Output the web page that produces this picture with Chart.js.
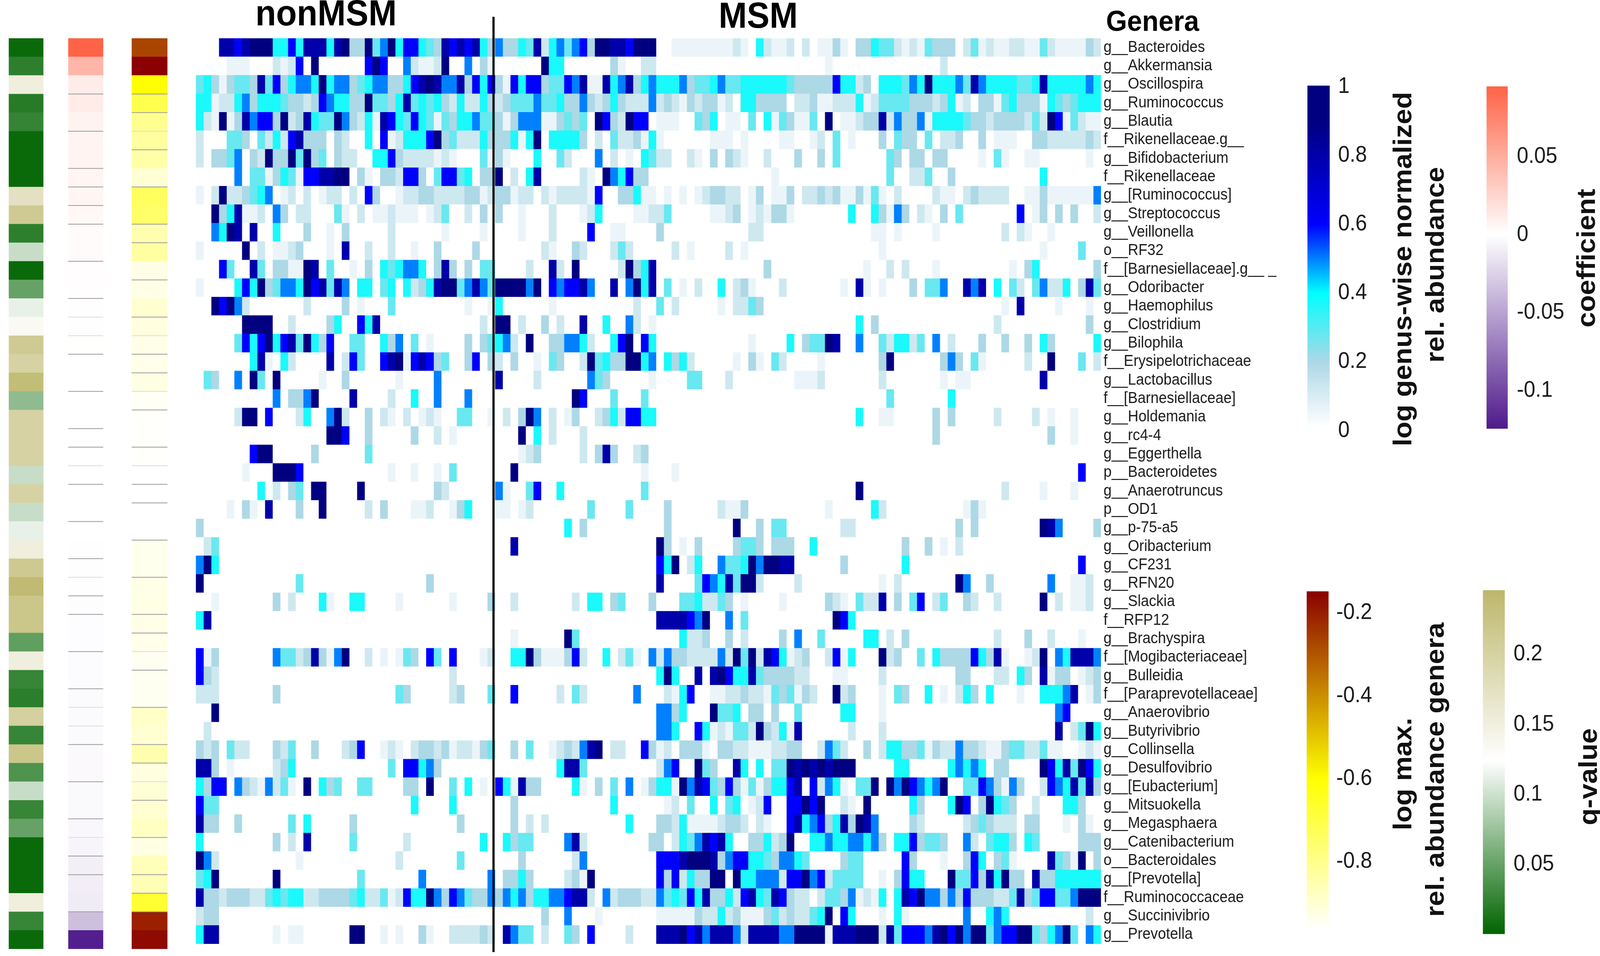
<!DOCTYPE html>
<html>
<head>
<meta charset="utf-8">
<script src="https://cdn.jsdelivr.net/npm/chart.js@4"></script>
<style>
  html, body { margin: 0; background: #fff; }
  html { overflow: hidden; }
  /* the window stops at 4096px wide, so the 4386px layout is fitted into it */
  body { position: relative; width: 4386px; height: 2448px; overflow: hidden; font-family: "Liberation Sans", Arial, sans-serif; transform: scaleX(0.93388); transform-origin: 0 0; }
  canvas { position: absolute; }
  .head { position: absolute; font-weight: bold; color: #000; line-height: 1; white-space: nowrap; }
  .side { position: absolute; font-weight: bold; font-size: 71px; color: #111; line-height: 1; white-space: nowrap; transform: translate(-50%, -50%) rotate(-90deg); }
</style>
</head>
<body>
<div class="head" style="left:700px;top:-13px;font-size:93px">nonMSM</div>
<div class="head" style="left:1970px;top:-7px;font-size:93px">MSM</div>
<div class="head" style="left:3032px;top:17px;font-size:74px">Genera</div>
<div class="side" style="left:3844px;top:689px">log genus-wise normalized</div>
<div class="side" style="left:3933px;top:678px">rel. abundance</div>
<div class="side" style="left:4348px;top:661px">coefficient</div>
<div class="side" style="left:3844px;top:1982px">log max.</div>
<div class="side" style="left:3933px;top:1971px">rel. abundance genera</div>
<div class="side" style="left:4353px;top:1989px">q-value</div>
<canvas id="qCol"></canvas>
<canvas id="coefCol"></canvas>
<canvas id="maxCol"></canvas>
<canvas id="heat"></canvas>
<canvas id="barAbund"></canvas>
<canvas id="barCoef"></canvas>
<canvas id="barMax"></canvas>
<canvas id="barQ"></canvas>
<script>
const genera = ["g__Bacteroides","g__Akkermansia","g__Oscillospira","g__Ruminococcus","g__Blautia","f__Rikenellaceae.g__","g__Bifidobacterium","f__Rikenellaceae","g__[Ruminococcus]","g__Streptococcus","g__Veillonella","o__RF32","f__[Barnesiellaceae].g__ _","g__Odoribacter","g__Haemophilus","g__Clostridium","g__Bilophila","f__Erysipelotrichaceae","g__Lactobacillus","f__[Barnesiellaceae]","g__Holdemania","g__rc4-4","g__Eggerthella","p__Bacteroidetes","g__Anaerotruncus","p__OD1","g__p-75-a5","g__Oribacterium","g__CF231","g__RFN20","g__Slackia","f__RFP12","g__Brachyspira","f__[Mogibacteriaceae]","g__Bulleidia","f__[Paraprevotellaceae]","g__Anaerovibrio","g__Butyrivibrio","g__Collinsella","g__Desulfovibrio","g__[Eubacterium]","g__Mitsuokella","g__Megasphaera","g__Catenibacterium","o__Bacteroidales","g__[Prevotella]","f__Ruminococcaceae","g__Succinivibrio","g__Prevotella"];

// abundance per sample, one digit per cell, index into abundanceLevels
const abundanceLevels = [0, .05, .12, .2, .28, .37, .5, .6, .8, 1];

const nonMsmRows = [
"0008878999 5575888589 3394695775 438787853",
"0000111000 2127090000 0079700621 129006031",
"4531344384 7356659566 3456633578 986683757",
"5512256355 5433237655 3394435845 453252253",
"5219138677 3923854496 3251875475 414355644",
"2000443042 5278333032 0050712555 793422253",
"2033460329 3394934032 2005573222 212100041",
"0000060441 3541778899 0310332773 047745033",
"1029223456 0120201220 2073001223 322223312",
"0093581120 6302200041 0201121110 124002030",
"0065980800 5000300103 0000020000 001000010",
"1000009020 1123000108 0020020010 030000300",
"0007400840 3311980400 1030545665 038303044",
"1000057593 4665978486 0550450523 589946864",
"0097962000 0000200003 0100040000 000001001",
"0000009999 0020000350 0758000000 000000020",
"0000047579 5784953700 4400536040 100003034",
"0000000581 0520000802 7400789178 734003703",
"0430060940 9000001003 0000001000 060000000",
"0000000000 6033690000 8000020050 060006000",
"0000029907 0002500692 0030210201 210044001",
"0000000000 0000000997 0030000030 020100000",
"0000000799 0000030000 0040000000 000000000",
"0000001000 9997000000 0000010010 010400000",
"0000000050 2034099000 0900000000 032000000",
"0000103108 0003009000 0020300011 200135000",
"3",
"024",
"695",
"9000000000 0004000000 0000000000 3",
"0010000000 3020005100 5500001000 000100003",
"58",
"",
"7130000000 6442383169 0020101430 740700012",
"7320000000 0000000000 0000000000 0002",
"2220000000 3000000000 0000004300 000230004",
"009",
"02",
"3230422000 3240030002 3700121023 323122134",
"8830100000 2350000000 0000040775 63",
"5377063216 2410905340 0440000330 900405010",
"7440000000 0000000000 0000000050 0005",
"8330030000 0040500000 3000000000 00003",
"5000000000 3020800000 4000000200 000000050",
"9620000000 0001000000 0000002000 00004",
"4590000000 9000000000 0400000006 000000006",
"8332333224 5455223333 4522412755 963764336",
"233",
"5880000000 1011000000 9900101003 100222232"
];

const msmRows = [
"6335482564 6739988799 9001111111 1210521120 2011310335 4421214333 0241211221 142111132",
"0000009550 0000031002 2000000000 0000000000 0001000000 0000000020",
"3175773447 6811856835 6555634456 4455555543 3333755230 5554659555 6486555544 585555565",
"2344464453 3632353222 6232132331 2055333302 2311222512 4444333235 1203314533 315434555",
"3136661134 3409732977 0111004350 1104051431 1409011233 8263361555 5433233332 429714211",
"3351590555 5302042231 5100000011 1010000110 0120401000 3043304022 3003011100 332222232",
"3100050042 0006020105 4220021030 3210020003 0030400000 0430330330 0001041001 100000010",
"9020580000 0210965733 0000000000 0000001000 0000000000 0400224003 0000000000 05",
"3312202122 2217003351 1010101233 2201301130 2232311314 1020000211 0232222001 131111116",
"3001000200 0125000011 2240000011 2301213310 0000005005 3163021030 4000000070 130303002",
"0001000200 0070011000 0300000000 0002200000 0000000001 1010000100 0000002021 001",
"0000002100 3200024200 0002010000 2010000000 0000000000 1000000000 0000000000 0100004",
"0000200820 9000002935 8000000000 0000030000 0000000010 0202000100 0000000103 500000003",
"9999690767 7860080695 8040102005 0231000200 0000010810 1000304460 0868050420 462250384",
"5000000100 0000000020 0402000001 0224300000 0000000000 0000000000 0000001080 000100010",
"9902003020 0800500620 1000000000 0000000000 0000000503 0000000000 0000020000 00000003",
"5620900336 6520057907 5000000000 0001000050 3449800600 4255240602 0003003003 053000005",
"2030010430 0294533995 6053520000 0103104200 0010000000 3900000036 3041000002 009000402",
"8000020000 0064300000 1000044000 2000000001 1120000000 2000000010 1100000000 08",
"0000000000 9700040004 0000000000 0000000000 0000000000 0400000005",
"0203960201 3002352775 5000000000 0000000000 0000000500 1100000303 0000020000 201001",
"0009050200 0200000000 0000000000 0000000000 0000000000 0000000300 0000000000 003001",
"0001230000 0203830023",
"0090000000 0000000001 0001000000 0000000000 0000000000 0000000000 0000000000 0000007",
"6100470050 0000000004 0000000000 0000000000 0000000900 0000000000 0000002000 010001",
"1101200000 0040000400 0030000002 1130000000 0001000005 2000000000 0131",
"0000000005 0300000000 0030000000 0900304400 0000022000 0000000000 3030000000 098600003",
"0080000000 0000000000 0930103000 0344303330 0500000000 0003003010 2",
"0000000000 0000000000 0759025006 4459699880 0000030000 0005000000 0000000000 0000007",
"0000000000 0000000000 0800004765 8499200002 0000000000 1020000000 9600300000 00600112",
"0020000000 2055034000 3000445224 3010000100 0003210422 8030470240 0320020000 09020112",
"0000000000 0000000000 0888876900 6040000000 0000975",
"0010000009 4000000000 0000522300 3020000306 0040000055 0203000000 0000020003 0020001",
"0055931113 7200502410 6263322226 2949287512 3002715000 9230040533 3375381001 290658886",
"0000000000 0000000000 0595008089 7558433332 2000110000 2000000000 3300022053 081330123",
"0070000020 4200000060 0021570011 2232214341 3200923000 1043005010 2530500010 055568013",
"0000000000 0000000000 0663500094 4503303004 0000055000 1000000000 0000000000 00067",
"0000000000 0000000000 0665007512 1442932518 0000002000 2000000000 0000000000 000802495",
"0030400123 2689022007 3120333103 3221112233 0026420030 2553341322 6332113442 241100121",
"0000000058 8400000000 0267009430 0850504498 9898999000 0055000005 6565033000 097584975",
"7518330000 5103040601 3551968743 7314135578 0726510449 0969765690 0447631630 027658483",
"0030000000 0000050000 0012040050 4501270077 9790021090 0000530005 9703954300 2000553",
"0030202000 0000000500 0332511112 3320210078 5673583986 0000320000 0234322203 30001031",
"0534400006 8200000000 3302546878 5003352390 0556556656 3055734430 0620455305 400000333",
"0003000000 2600000000 0777899983 6775543665 4000034400 0007300010 0375034100 008431903",
"0335300002 3190000000 0737253399 0955666277 9672444400 1037550009 4473859330 833555555",
"3656355667 8820623332 2645475833 5278548732 2024436121 5058796636 3733322483 477446999",
"0000003006 0001000000 0111113225 2311134232 2459075000 1051000000 0600565000 00000002",
"0864402004 3070000200 0888978688 8628888669 9991888999 2847776897 9699467799 435694065"
];

const nonMsmCount = 39;
const msmCount = 79;
const dividerAt = 38.8;

// per-genus annotation columns
const qValues = [.005,.022,.152,.019,.026,.005,.005,.005,.175,.213,.022,.097,.005,.05,.113,.134,.213,.2,.236,.07,.2,.2,.2,.097,.2,.097,.113,.152,.215,.24,.22,.22,.047,.152,.027,.021,.203,.027,.22,.038,.097,.027,.05,.005,.005,.005,.152,.027,.005];
const coefficients = [.095,.045,.012,.012,.0075,.007,.007,.0065,.006,.005,.003,.003,.0015,.0015,.0012,.001,.0008,.0005,.0003,.0002,0,-.0001,-.0003,-.0004,-.0005,-.0006,-.0007,-.0008,-.001,-.0012,-.0015,-.002,-.002,-.0025,-.0025,-.003,-.003,-.003,-.0035,-.0035,-.004,-.004,-.005,-.006,-.009,-.01,-.011,-.035,-.122];
const logMax = [-.27,-.148,-.6,-.71,-.806,-.83,-.84,-.905,-.737,-.75,-.85,-.83,-.93,-.93,-.9,-.92,-.93,-.935,-.925,-.95,-.96,-.96,-.96,-.965,-.965,-.965,-.965,-.94,-.94,-.93,-.925,-.93,-.935,-.945,-.945,-.945,-.885,-.9,-.85,-.92,-.905,-.9,-.88,-.925,-.865,-.86,-.673,-.205,-.165];

// rows with a thin grey line under them in the annotation strips
const coefRuleRows = [2,4,6,7,8,9,11,13,16,18,20,21,23,25,27,29,30,32,34,37,39,41,43,44,46];
const coefFaintRows = [14,15,22,28,35,36,42];
const maxRuleRows = [2,3,5,7,9,10,12,14,16,17,19,21,23,24,26,28,30,31,33,35,37,38,40,42,44,45,46];
const maxFaintRows = [4,15,18,22,32,39];

const abundanceTicks = [0, .2, .4, .6, .8, 1];
const coefTicks = [.05, 0, -.05, -.1];
const maxTicks = [-.2, -.4, -.6, -.8];
const qTicks = [.05, .1, .15, .2];

const abundanceStops = [[0,'#ffffff'],[.2,'#add8e6'],[.4,'#00ffff'],[.6,'#0000ff'],[.9,'#000080'],[1,'#000080']];
const coefStops = [[-.1245,'#4f1a8c'],[-.0005,'#ffffff'],[.0005,'#ffffff'],[.0952,'#ff6347']];
const maxStops = [[-.965,'#ffffff'],[-.6,'#ffff00'],[-.148,'#8b0000']];
const qStops = [[.0003,'#006400'],[.124,'#ffffff'],[.2458,'#bdb76b']];

const FONT = '"Liberation Sans", Arial, sans-serif';
Chart.defaults.animation = false;
Chart.defaults.font.family = FONT;

function rgb(hex) {
    return [1, 3, 5].map(i => parseInt(hex.slice(i, i + 2), 16));
}

function colorAt(stops, v) {
    if (v <= stops[0][0]) return stops[0][1];
    for (let i = 1; i < stops.length; i++) {
        if (v <= stops[i][0]) {
            const t = (v - stops[i - 1][0]) / (stops[i][0] - stops[i - 1][0]);
            const a = rgb(stops[i - 1][1]), b = rgb(stops[i][1]);
            return 'rgb(' + a.map((c, k) => Math.round(c + (b[k] - c) * t)).join(',') + ')';
        }
    }
    return stops[stops.length - 1][1];
}

function place(id, left, top, w, h) {
    const c = document.getElementById(id);
    c.width = w; c.height = h;
    c.style.left = left + 'px';
    c.style.top = top + 'px';
    c.style.width = w + 'px';
    c.style.height = h + 'px';
    return c;
}

function decode(row, count) {
    return row.replace(/ /g, '').padEnd(count, '0').split('').slice(0, count).map(d => abundanceLevels[+d]);
}

const cells = genera.map((g, i) => decode(nonMsmRows[i], nonMsmCount).concat(decode(msmRows[i], msmCount)));
const columnCount = nonMsmCount + msmCount;

// horizontal stacked bars: one dataset per sample, one bar per genus
const heatDatasets = [];
for (let c = 0; c < columnCount; c++) {
    heatDatasets.push({
        data: genera.map(() => 1),
        backgroundColor: cells.map(row => colorAt(abundanceStops, row[c])),
        borderWidth: 0,
        barPercentage: 1,
        categoryPercentage: 1
    });
}

const dividerPlugin = {
    id: 'divider',
    afterDatasetsDraw(chart) {
        const x = chart.scales.x.getPixelForValue(dividerAt);
        const ctx = chart.ctx;
        ctx.save();
        ctx.strokeStyle = '#000';
        ctx.lineWidth = 6;
        ctx.beginPath();
        ctx.moveTo(x, 43);
        ctx.lineTo(x, 2438);
        ctx.stroke();
        ctx.restore();
    }
};

new Chart(place('heat', 537, 0, 2963, 2448), {
    type: 'bar',
    data: { labels: genera, datasets: heatDatasets },
    options: {
        indexAxis: 'y',
        responsive: false,
        devicePixelRatio: 1,
        layout: { padding: { top: 98, bottom: 18 } },
        plugins: { legend: { display: false }, tooltip: { enabled: false } },
        scales: {
            x: { type: 'linear', stacked: true, min: 0, max: columnCount, display: false },
            y: {
                stacked: true,
                position: 'right',
                grid: { display: false, drawTicks: false },
                border: { display: false },
                afterFit: s => { s.width = 2963 - 2481; },
                ticks: { autoSkip: false, color: '#1a1a1a', padding: 7, font: { size: 40 } }
            }
        }
    },
    plugins: [dividerPlugin]
});

function stripChart(id, left, width, values, stops, rules, faint) {
    const rulePlugin = {
        id: 'rules',
        afterDatasetsDraw(chart) {
            const ctx = chart.ctx, y = chart.scales.y, a = chart.chartArea;
            const line = (rows, colour) => rows.forEach(r => {
                const py = (y.getPixelForValue(r) + y.getPixelForValue(r + 1)) / 2;
                ctx.strokeStyle = colour;
                ctx.lineWidth = 2;
                ctx.beginPath();
                ctx.moveTo(a.left, py);
                ctx.lineTo(a.right, py);
                ctx.stroke();
            });
            ctx.save();
            line(rules, '#9a9a9a');
            line(faint, '#dcdcdc');
            ctx.restore();
        }
    };
    new Chart(place(id, left, 0, width, 2448), {
        type: 'bar',
        data: {
            labels: genera,
            datasets: [{
                data: values.map(() => 1),
                backgroundColor: values.map(v => colorAt(stops, v)),
                borderWidth: 0,
                barPercentage: 1,
                categoryPercentage: 1
            }]
        },
        options: {
            indexAxis: 'y',
            responsive: false,
            devicePixelRatio: 1,
            layout: { padding: { top: 98, bottom: 18 } },
            plugins: { legend: { display: false }, tooltip: { enabled: false } },
            scales: {
                x: { min: 0, max: 1, display: false },
                y: { display: false }
            }
        },
        plugins: [rulePlugin]
    });
}

stripChart('qCol', 24, 95, qValues, qStops, [], []);
stripChart('coefCol', 187, 96, coefficients, coefStops, coefRuleRows, coefFaintRows);
stripChart('maxCol', 361, 98, logMax, maxStops, maxRuleRows, maxFaintRows);

function colorBar(id, left, top, barW, barH, min, max, barFrom, barTo, stops, ticks, pad) {
    const width = 260;
    new Chart(place(id, left, top - 50, width, barH + 100), {
        type: 'bar',
        data: {
            labels: [''],
            datasets: [{
                data: [[barFrom, barTo]],
                borderWidth: 0,
                barPercentage: 1,
                categoryPercentage: 1,
                backgroundColor(ctx) {
                    const y = ctx.chart.scales.y;
                    const y0 = y ? y.getPixelForValue(barTo) : NaN, y1 = y ? y.getPixelForValue(barFrom) : NaN;
                    if (!isFinite(y0) || !isFinite(y1)) return '#fff';
                    const g = ctx.chart.ctx.createLinearGradient(0, y0, 0, y1);
                    stops.forEach(s => {
                        const t = (barTo - s[0]) / (barTo - barFrom);
                        g.addColorStop(Math.min(1, Math.max(0, t)), s[1]);
                    });
                    return g;
                }
            }]
        },
        options: {
            responsive: false,
            devicePixelRatio: 1,
            layout: { padding: { top: 50, bottom: 50 } },
            plugins: { legend: { display: false }, tooltip: { enabled: false } },
            scales: {
                x: { display: false },
                y: {
                    position: 'right',
                    min: min,
                    max: max,
                    grid: { display: false, drawTicks: false },
                    border: { display: false },
                    afterFit: s => { s.width = width - barW; },
                    afterBuildTicks: s => { s.ticks = ticks.map(v => ({ value: v })); },
                    ticks: { color: '#1a1a1a', padding: pad, font: { size: 57 }, callback: v => String(v) }
                }
            }
        }
    });
}

colorBar('barAbund', 3584, 212, 61, 898, 0, 1.003, .011, 1.003, abundanceStops, abundanceTicks, 23);
colorBar('barCoef', 4075, 212, 58, 895, -.1245, .0952, -.1245, .0952, coefStops, coefTicks, 25);
colorBar('barMax', 3582, 1509, 60, 878, -.965, -.148, -.965, -.148, maxStops, maxTicks, 21);
colorBar('barQ', 4065, 1503, 60, 897, .0003, .2458, .0003, .2458, qStops, qTicks, 24);
</script>
</body>
</html>
